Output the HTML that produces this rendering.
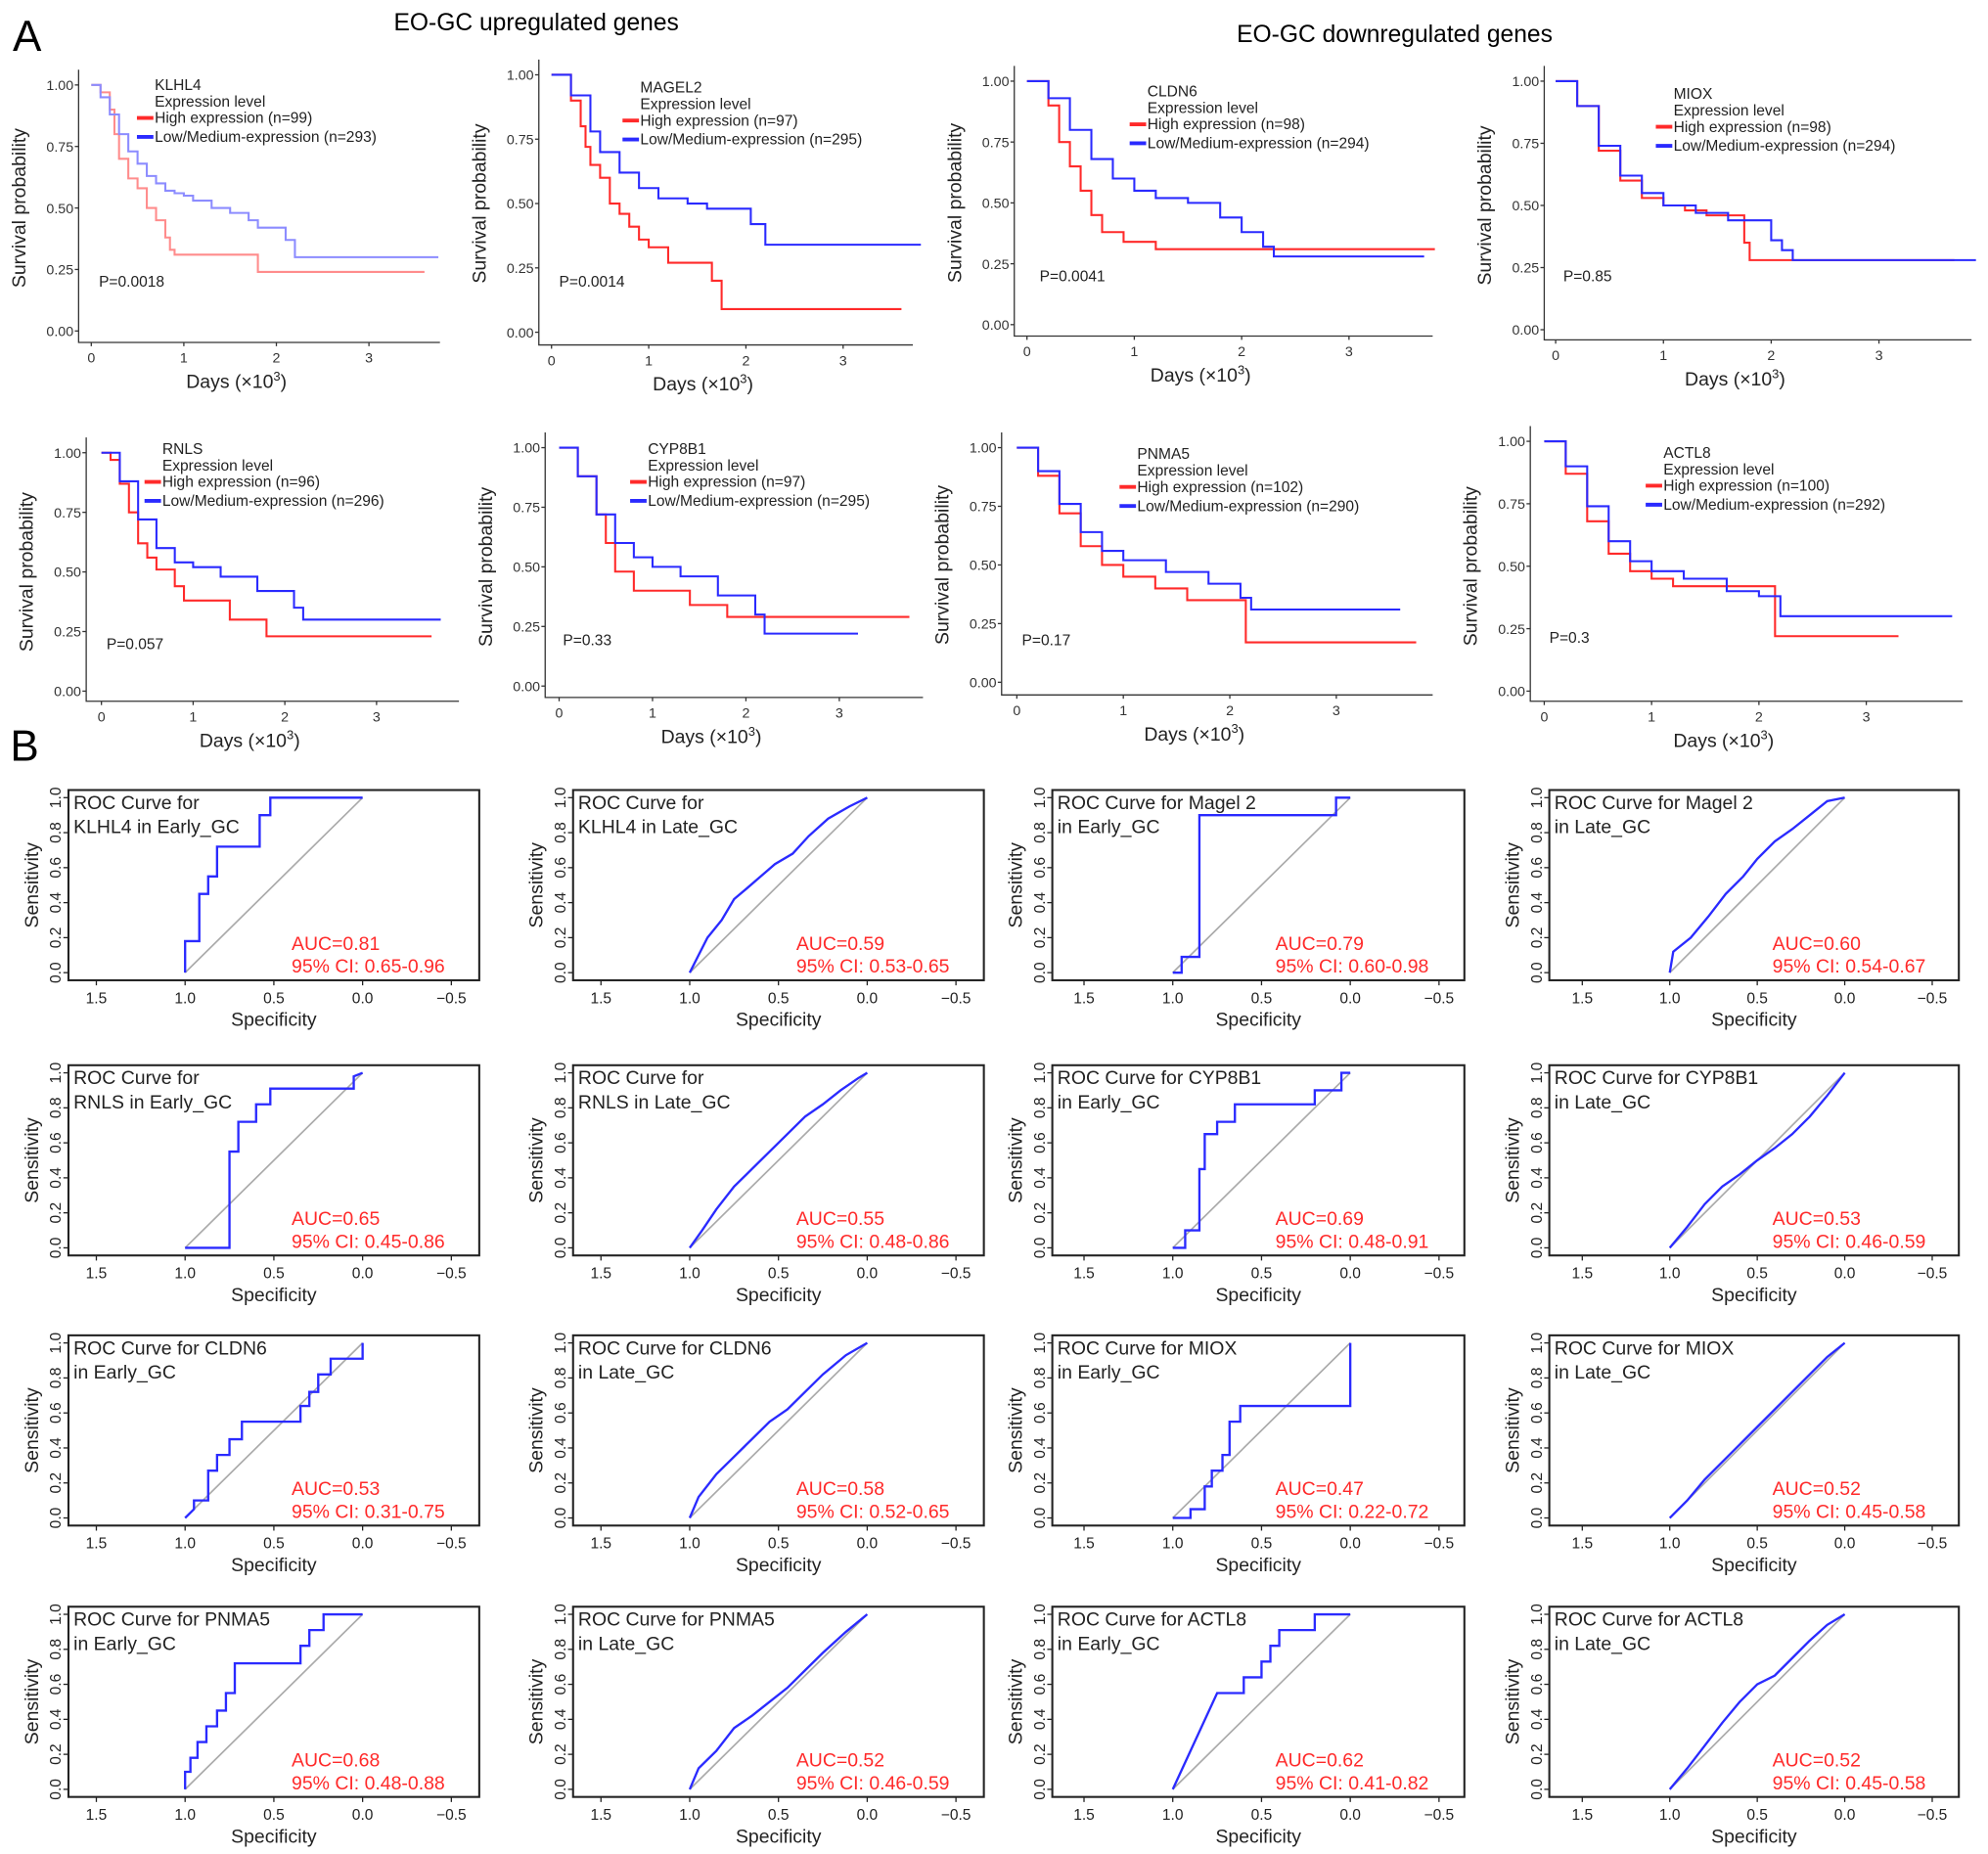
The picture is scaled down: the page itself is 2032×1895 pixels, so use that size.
<!DOCTYPE html>
<html><head><meta charset="utf-8"><style>
html,body{margin:0;padding:0;background:#fff}
svg{display:block;font-family:"Liberation Sans",Arial,sans-serif}
</style></head><body>
<svg id="fig" width="2032" height="1895" viewBox="0 0 1568 1462" preserveAspectRatio="none" xmlns="http://www.w3.org/2000/svg">
<rect width="1568" height="1462" fill="#fff"/>
<text x="10" y="40" font-size="34">A</text>
<text x="423" y="24" font-size="19" text-anchor="middle">EO-GC upregulated genes</text>
<text x="1100" y="33" font-size="19" text-anchor="middle">EO-GC downregulated genes</text>
<text x="8" y="600" font-size="34">B</text>
</svg>
<script>
// ---------- KM data ----------
const kmGenes=["KLHL4","MAGEL2","CLDN6","MIOX","RNLS","CYP8B1","PNMA5","ACTL8"];
const kmHighN=[99,97,98,98,96,97,102,100];
const kmLowN=[293,295,294,294,296,295,290,292];
const kmPvals=["P=0.0018","P=0.0014","P=0.0041","P=0.85","P=0.057","P=0.33","P=0.17","P=0.3"];
const kmHighDays=[
[0,0.05,0.1,0.2,0.25,0.3,0.4,0.5,0.6,0.7,0.8,0.85,0.9,1.8,3.6],
[0,0.1,0.2,0.3,0.35,0.4,0.5,0.6,0.7,0.8,0.9,1.0,1.2,1.65,1.75,3.6],
[0,0.2,0.3,0.4,0.5,0.6,0.7,0.9,1.2,3.8],
[0,0.2,0.4,0.6,0.8,1.0,1.2,1.4,1.75,1.8,3.7],
[0,0.1,0.2,0.3,0.4,0.5,0.6,0.8,0.9,1.4,1.8,3.6],
[0,0.2,0.4,0.5,0.6,0.8,1.4,1.8,3.75],
[0,0.2,0.4,0.6,0.8,1.0,1.3,1.6,2.15,3.75],
[0,0.2,0.4,0.6,0.8,1.0,1.2,2.15,3.3]];
const kmHighSurv=[
[1,1,0.97,0.9,0.8,0.7,0.62,0.58,0.5,0.45,0.38,0.33,0.31,0.24,0.24],
[1,1,0.9,0.8,0.72,0.65,0.6,0.5,0.46,0.41,0.36,0.33,0.27,0.2,0.09,0.09],
[1,0.9,0.75,0.65,0.55,0.45,0.38,0.34,0.31,0.31],
[1,0.9,0.72,0.6,0.53,0.5,0.48,0.46,0.35,0.28,0.28],
[1,0.97,0.87,0.75,0.62,0.56,0.51,0.44,0.38,0.3,0.23,0.23],
[1,0.88,0.72,0.6,0.48,0.4,0.34,0.29,0.29],
[1,0.88,0.72,0.58,0.5,0.45,0.4,0.35,0.17,0.17],
[1,0.87,0.68,0.55,0.48,0.45,0.42,0.22,0.22]];
const kmLowDays=[
[0,0.1,0.2,0.3,0.4,0.5,0.6,0.7,0.8,0.9,1.0,1.1,1.3,1.5,1.7,1.8,2.1,2.2,3.75],
[0,0.2,0.4,0.5,0.7,0.9,1.1,1.4,1.6,2.05,2.2,3.8],
[0,0.2,0.4,0.6,0.8,1.0,1.2,1.5,1.8,2.0,2.2,2.3,3.7],
[0,0.2,0.4,0.6,0.8,1.0,1.3,1.6,2.0,2.1,2.2,3.9],
[0,0.2,0.4,0.6,0.8,1.0,1.3,1.7,2.1,2.2,3.7],
[0,0.2,0.4,0.6,0.8,1.0,1.3,1.7,2.1,2.2,3.2],
[0,0.2,0.4,0.6,0.8,1.0,1.4,1.8,2.1,2.2,3.6],
[0,0.2,0.4,0.6,0.8,1.0,1.3,1.7,2.0,2.2,3.8]];
const kmLowSurv=[
[1,0.95,0.88,0.8,0.73,0.68,0.63,0.6,0.57,0.56,0.55,0.53,0.5,0.48,0.45,0.42,0.37,0.3,0.3],
[1,0.92,0.78,0.7,0.62,0.56,0.52,0.5,0.48,0.42,0.34,0.34],
[1,0.93,0.8,0.68,0.6,0.55,0.52,0.5,0.44,0.38,0.32,0.28,0.28],
[1,0.9,0.74,0.62,0.55,0.5,0.47,0.44,0.36,0.32,0.28,0.28],
[1,0.88,0.72,0.6,0.54,0.52,0.48,0.42,0.35,0.3,0.3],
[1,0.88,0.72,0.6,0.54,0.5,0.46,0.38,0.3,0.22,0.22],
[1,0.9,0.76,0.64,0.56,0.52,0.47,0.42,0.36,0.31,0.31],
[1,0.9,0.74,0.6,0.52,0.48,0.45,0.4,0.38,0.3,0.3]];
const kmYTicks=["1.00","0.75","0.50","0.25","0.00"];
const kmXTicks=["0","1","2","3"];
const kmLayout=[
{ax:62,y1:67,y0:261,xa:270,t0:72,t3:291,r:347,lx:122,ly:67,px:78,py:226},
{ax:425,y1:59,y0:262,xa:272,t0:435,t3:665,r:720,lx:505,ly:69,px:441,py:226},
{ax:800,y1:64,y0:256,xa:265,t0:810,t3:1064,r:1130,lx:905,ly:72,px:820,py:222},
{ax:1218,y1:64,y0:260,xa:268,t0:1227,t3:1482,r:1555,lx:1320,ly:74,px:1233,py:222},
{ax:68,y1:357,y0:545,xa:553,t0:80,t3:297,r:362,lx:128,ly:354,px:84,py:512},
{ax:430,y1:353,y0:541,xa:550,t0:441,t3:662,r:728,lx:511,ly:354,px:444,py:509},
{ax:790,y1:353,y0:538,xa:548,t0:802,t3:1054,r:1130,lx:897,ly:358,px:806,py:509},
{ax:1207,y1:348,y0:545,xa:553,t0:1218,t3:1472,r:1548,lx:1312,ly:357,px:1222,py:507}];

// ---------- ROC data ----------
const rocTitles1=["ROC Curve for","ROC Curve for","ROC Curve for Magel 2","ROC Curve for Magel 2",
"ROC Curve for","ROC Curve for","ROC Curve for CYP8B1","ROC Curve for CYP8B1",
"ROC Curve for CLDN6","ROC Curve for CLDN6","ROC Curve for MIOX","ROC Curve for MIOX",
"ROC Curve for PNMA5","ROC Curve for PNMA5","ROC Curve for ACTL8","ROC Curve for ACTL8"];
const rocTitles2=["KLHL4 in Early_GC","KLHL4 in Late_GC","in Early_GC","in Late_GC",
"RNLS in Early_GC","RNLS in Late_GC","in Early_GC","in Late_GC",
"in Early_GC","in Late_GC","in Early_GC","in Late_GC",
"in Early_GC","in Late_GC","in Early_GC","in Late_GC"];
const rocAUC=["0.81","0.59","0.79","0.60","0.65","0.55","0.69","0.53","0.53","0.58","0.47","0.52","0.68","0.52","0.62","0.52"];
const rocCI=["0.65-0.96","0.53-0.65","0.60-0.98","0.54-0.67","0.45-0.86","0.48-0.86","0.48-0.91","0.46-0.59","0.31-0.75","0.52-0.65","0.22-0.72","0.45-0.58","0.48-0.88","0.46-0.59","0.41-0.82","0.45-0.58"];
const rocSpec=[
[1,1,0.92,0.92,0.87,0.87,0.82,0.82,0.58,0.58,0.52,0.52,0],
[1,0.95,0.9,0.82,0.75,0.68,0.6,0.52,0.42,0.33,0.22,0.1,0],
[1,0.95,0.95,0.85,0.85,0.08,0.08,0],
[1,0.98,0.88,0.78,0.68,0.58,0.5,0.4,0.3,0.2,0.1,0],
[1,0.75,0.75,0.7,0.7,0.6,0.6,0.52,0.52,0.05,0.05,0],
[1,0.93,0.85,0.75,0.65,0.55,0.45,0.35,0.25,0.15,0.05,0],
[1,0.93,0.93,0.85,0.85,0.82,0.82,0.75,0.75,0.65,0.65,0.2,0.2,0.05,0.05,0],
[1,0.9,0.8,0.7,0.6,0.5,0.4,0.3,0.2,0.1,0],
[1,0.95,0.95,0.87,0.87,0.82,0.82,0.75,0.75,0.68,0.68,0.35,0.35,0.3,0.3,0.25,0.25,0.18,0.18,0,0],
[1,0.95,0.85,0.75,0.65,0.55,0.45,0.35,0.25,0.12,0],
[1,0.9,0.9,0.82,0.82,0.78,0.78,0.72,0.72,0.68,0.68,0.62,0.62,0,0],
[1,0.9,0.8,0.7,0.6,0.5,0.4,0.3,0.2,0.1,0],
[1,1,0.97,0.97,0.93,0.93,0.88,0.88,0.82,0.82,0.77,0.77,0.72,0.72,0.35,0.35,0.3,0.3,0.22,0.22,0],
[1,0.95,0.85,0.75,0.65,0.55,0.45,0.35,0.25,0.12,0],
[1,0.75,0.6,0.6,0.5,0.5,0.45,0.45,0.4,0.4,0.2,0.2,0],
[1,0.9,0.8,0.7,0.6,0.5,0.4,0.3,0.2,0.1,0]];
const rocSens=[
[0,0.18,0.18,0.45,0.45,0.55,0.55,0.72,0.72,0.9,0.9,1,1],
[0,0.1,0.2,0.3,0.42,0.48,0.55,0.62,0.68,0.78,0.88,0.95,1],
[0,0,0.09,0.09,0.9,0.9,1,1],
[0,0.12,0.2,0.32,0.45,0.55,0.65,0.75,0.82,0.9,0.98,1],
[0,0,0.55,0.55,0.72,0.72,0.82,0.82,0.91,0.91,0.98,1],
[0,0.1,0.22,0.35,0.45,0.55,0.65,0.75,0.82,0.9,0.97,1],
[0,0,0.1,0.1,0.45,0.45,0.65,0.65,0.72,0.72,0.82,0.82,0.9,0.9,1,1],
[0,0.12,0.25,0.35,0.42,0.5,0.57,0.65,0.75,0.87,1],
[0,0.05,0.1,0.1,0.27,0.27,0.36,0.36,0.45,0.45,0.55,0.55,0.64,0.64,0.72,0.72,0.82,0.82,0.91,0.91,1],
[0,0.12,0.25,0.35,0.45,0.55,0.62,0.72,0.82,0.93,1],
[0,0,0.05,0.05,0.18,0.18,0.27,0.27,0.36,0.36,0.55,0.55,0.64,0.64,1],
[0,0.1,0.22,0.32,0.42,0.52,0.62,0.72,0.82,0.92,1],
[0,0.1,0.1,0.18,0.18,0.27,0.27,0.36,0.36,0.45,0.45,0.55,0.55,0.72,0.72,0.82,0.82,0.91,0.91,1,1],
[0,0.12,0.22,0.35,0.42,0.5,0.58,0.68,0.78,0.9,1],
[0,0.55,0.55,0.64,0.64,0.73,0.73,0.82,0.82,0.91,0.91,1,1],
[0,0.12,0.25,0.38,0.5,0.6,0.65,0.75,0.85,0.94,1]];
const rocXTicks=[1.5,1.0,0.5,0.0,-0.5];
const rocXTickLabels=["1.5","1.0","0.5","0.0","\u22120.5"];
const rocYTicks=[0,0.2,0.4,0.6,0.8,1.0];
const rocYTickLabels=["0.0","0.2","0.4","0.6","0.8","1.0"];
const rocColLayout=[{l:54,r:378,x1:146,x0:286},{l:452,r:776,x1:544,x0:684},{l:830,r:1155,x1:925,x0:1065},{l:1222,r:1545,x1:1317,x0:1455}];
const rocRowLayout=[{t:623,b:773},{t:840,b:990},{t:1053,b:1203},{t:1267,b:1417}];

const NS="http://www.w3.org/2000/svg";
const svg=document.getElementById('fig');
function mk(tag,attrs,parent,txt){const e=document.createElementNS(NS,tag);for(const k in attrs)e.setAttribute(k,attrs[k]);if(txt!==undefined)e.textContent=txt;(parent||svg).appendChild(e);return e;}

kmGenes.forEach((g,i)=>{
  const L=kmLayout[i];
  const grp=mk('g',{});
  
  
  const sx=d=>L.t0+d*(L.t3-L.t0)/3;
  const sy=s=>L.y0-s*(L.y0-L.y1);
  mk('path',{d:`M${L.ax} ${L.y1-12}V${L.xa}H${L.r}`,stroke:'#333',fill:'none','stroke-width':1},grp);
  kmYTicks.forEach((t,k)=>{const v=parseFloat(t);const y=sy(v);
    mk('line',{x1:L.ax-3,x2:L.ax,y1:y,y2:y,stroke:'#333'},grp);
    const tx=mk('text',{x:L.ax-4,y:y+4,'font-size':11,'text-anchor':'end',fill:'#333'},grp,t);
    
    });
  kmXTicks.forEach(t=>{const x=sx(+t);
    mk('line',{x1:x,x2:x,y1:L.xa,y2:L.xa+3,stroke:'#333'},grp);
    const tx=mk('text',{x:x,y:L.xa+16,'font-size':11,'text-anchor':'middle',fill:'#333'},grp,t);
    
    });
  const yl=mk('text',{x:0,y:0,'font-size':15,'text-anchor':'middle',fill:'#222',transform:`translate(${L.ax-42},${(L.y1+L.y0)/2}) rotate(-90)`},grp,'Survival probability');
  
  
  const xl=mk('text',{x:(L.ax+L.r)/2-18,y:L.xa+36,'font-size':15,'text-anchor':'middle',fill:'#222'},grp);
  
  
  xl.appendChild(document.createTextNode('Days (\u00d710'));
  mk('tspan',{dy:-6,'font-size':10},xl,'3');
  mk('tspan',{dy:6},xl,')');
  const faded=(i===0);
  const series=[[kmHighDays[i],kmHighSurv[i],faded?'#ff8c8c':'#ff2a2a','km-high-curve'],[kmLowDays[i],kmLowSurv[i],faded?'#8c8cff':'#2a2aff','km-low-curve']];
  series.forEach(([D,S,c,nm])=>{
    let d=`M${sx(D[0])} ${sy(S[0])}`;
    for(let k=1;k<D.length;k++){d+=`H${sx(D[k])}V${sy(S[k])}`;}
    const p=mk('path',{d:d,stroke:c,fill:'none','stroke-width':1.6},grp);
    
    
  });
  const lg=mk('g',{},grp);
  
  
  mk('text',{x:L.lx,y:L.ly+4,'font-size':12,fill:'#222'},lg,g);
  mk('text',{x:L.lx,y:L.ly+17,'font-size':12,fill:'#222'},lg,'Expression level');
  mk('line',{x1:L.lx-14,x2:L.lx-1,y1:L.ly+26,y2:L.ly+26,stroke:'#ff2a2a','stroke-width':3},lg);
  const e1=mk('text',{x:L.lx,y:L.ly+30,'font-size':12,fill:'#222'},lg,`High expression (n=${kmHighN[i]})`);
  
  
  mk('line',{x1:L.lx-14,x2:L.lx-1,y1:L.ly+41,y2:L.ly+41,stroke:'#2a2aff','stroke-width':3},lg);
  const e2=mk('text',{x:L.lx,y:L.ly+45,'font-size':12,fill:'#222'},lg,`Low/Medium-expression (n=${kmLowN[i]})`);
  
  
  const pv=mk('text',{x:L.px,y:L.py,'font-size':12,fill:'#222'},grp,kmPvals[i]);
  
  
});

for(let i=0;i<16;i++){
  const C=rocColLayout[i%4],R=rocRowLayout[Math.floor(i/4)];
  const grp=mk('g',{});
  
  
  const sx=s=>C.x0+s*(C.x1-C.x0);
  const yT=R.t+6,yB=R.b-6;
  const sy=v=>yB-v*(yB-yT);
  mk('rect',{x:C.l,y:R.t,width:C.r-C.l,height:R.b-R.t,fill:'none',stroke:'#222','stroke-width':1.6},grp);
  rocXTicks.forEach((v,k)=>{const x=sx(v);
    mk('line',{x1:x,x2:x,y1:R.b,y2:R.b+4,stroke:'#222'},grp);
    const t=mk('text',{x:x,y:R.b+18,'font-size':12,'text-anchor':'middle',fill:'#222'},grp,rocXTickLabels[k]);
    
    });
  rocYTicks.forEach((v,k)=>{const y=sy(v);
    mk('line',{x1:C.l-4,x2:C.l,y1:y,y2:y,stroke:'#222'},grp);
    const t=mk('text',{x:0,y:0,'font-size':12,'text-anchor':'middle',fill:'#222',transform:`translate(${C.l-6},${y}) rotate(-90)`},grp,rocYTickLabels[k]);
    
    });
  const yl=mk('text',{x:0,y:0,'font-size':15,'text-anchor':'middle',fill:'#222',transform:`translate(${C.l-24},${(R.t+R.b)/2}) rotate(-90)`},grp,'Sensitivity');
  
  
  const xl=mk('text',{x:(C.l+C.r)/2,y:R.b+36,'font-size':15,'text-anchor':'middle',fill:'#222'},grp,'Specificity');
  
  
  const dg=mk('line',{x1:sx(1),y1:sy(0),x2:sx(0),y2:sy(1),stroke:'#aaa','stroke-width':1.3},grp);
  
  
  const S=rocSpec[i],V=rocSens[i];
  let d='';for(let k=0;k<S.length;k++)d+=(k?'L':'M')+sx(S[k])+' '+sy(V[k]);
  const p=mk('path',{d:d,stroke:'#2a2aff',fill:'none','stroke-width':1.8},grp);
  
  
  const t1=mk('text',{x:C.l+4,y:R.t+15,'font-size':15,fill:'#222'},grp,rocTitles1[i]);
  
  
  mk('text',{x:C.l+4,y:R.t+34,'font-size':15,fill:'#222'},grp,rocTitles2[i]);
  const a=mk('text',{x:C.l+176,y:R.b-24,'font-size':15,fill:'#ff2a2a'},grp,'AUC='+rocAUC[i]);
  
  
  const ci=mk('text',{x:C.l+176,y:R.b-6,'font-size':15,fill:'#ff2a2a'},grp,'95% CI: '+rocCI[i]);
  
  
}
</script>
</body></html>
